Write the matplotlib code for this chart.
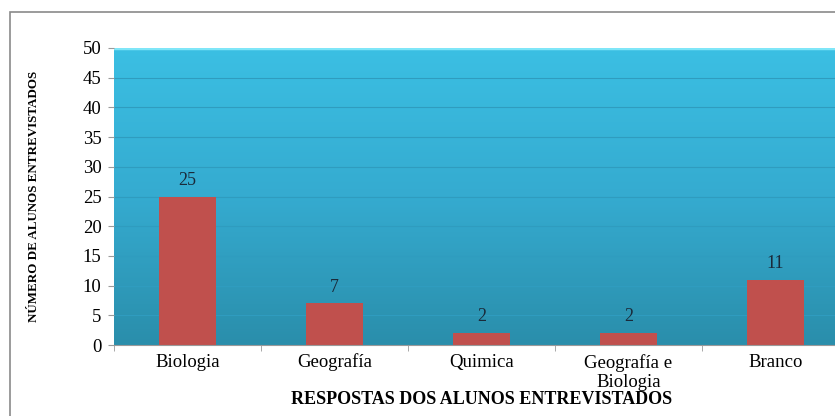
import numpy as np
import matplotlib.pyplot as plt
from matplotlib.colors import LinearSegmentedColormap
from matplotlib.patches import Rectangle
from matplotlib.transforms import ScaledTranslation

categorias = ['Biologia', 'Geografía', 'Quimica', 'Geografía e\nBiologia', 'Branco']
alunos = [25, 7, 2, 2, 11]
yticks = [0, 5, 10, 15, 20, 25, 30, 35, 40, 45, 50]

plt.rcParams['font.family'] = ['Liberation Serif', 'DejaVu Serif']

fig = plt.figure(figsize=(8.35, 4.16), dpi=100)
fig.patch.set_facecolor('white')

# moldura do grafico (cortada a direita e em baixo)
fig.patches.append(Rectangle((10 / 835, -0.1), 1.2, (416 - 12) / 416 + 0.1,
                             transform=fig.transFigure, fill=False,
                             edgecolor='#8a8a8a', linewidth=1.2))

ax = fig.add_axes([114 / 835, 71 / 416, 735 / 835, 297 / 416])
x = np.arange(len(categorias))
ax.set_xlim(-0.5, len(categorias) - 0.5)
ax.set_ylim(0, 50)

# fundo em gradiente azul: escuro em baixo, claro em cima
grad = np.linspace(0, 1, 256).reshape(-1, 1)
cmap = LinearSegmentedColormap.from_list('fundo', ['#2a8eab', '#35abd0', '#3bbfe3'])
ax.imshow(grad, aspect='auto', cmap=cmap, extent=(-0.5, len(categorias) - 0.5, 0, 50),
          zorder=0, origin='lower')
ax.axhline(50, color='#7fe6f8', linewidth=2.5, zorder=1)

for yv in yticks[1:-1]:
    ax.axhline(yv, color='#2f9cbf', linewidth=0.8, zorder=1)

ax.bar(x, alunos, width=0.39, color='#c0504d', zorder=2)
for xi, v in zip(x, alunos):
    ax.text(xi, v + 1.3, str(v), ha='center', va='bottom', fontsize=13,
            color='#1a2a3a', zorder=3)

for s in ['top', 'right']:
    ax.spines[s].set_visible(False)
ax.spines['left'].set_visible(False)
ax.spines['bottom'].set_color('#9a9a9a')

ax.set_yticks(yticks)
ax.set_yticklabels([str(t) for t in yticks], fontsize=13.5)
ax.tick_params(axis='y', length=4, color='#9a9a9a', pad=5)

ax.set_xticks(x)
ax.set_xticklabels(categorias, fontsize=13.5, linespacing=1.15)
ax.tick_params(axis='x', length=0, pad=16)
# rotulos alinhados pela linha de base; o de duas linhas pelo topo
for lbl in ax.get_xticklabels():
    if '\n' in lbl.get_text():
        lbl.set_verticalalignment('top')
        lbl.set_transform(lbl.get_transform() +
                          ScaledTranslation(0, 9.5 / 72, fig.dpi_scale_trans))
    else:
        lbl.set_verticalalignment('baseline')
ax.set_xticks(np.arange(len(categorias)) - 0.5, minor=True)
ax.tick_params(axis='x', which='minor', length=4, color='#9a9a9a')

ax.set_xlabel('RESPOSTAS DOS ALUNOS ENTREVISTADOS', fontsize=13, fontweight='bold',
              labelpad=0, va='center')
ax.xaxis.set_label_coords((482 - 114) / 735, -(400 - 345) / 297)
ax.set_ylabel('NÚMERO DE ALUNOS ENTREVISTADOS', fontsize=9.4, fontweight='bold')
ax.yaxis.set_label_coords(-(114 - 40) / 735, 0.5)

fig.savefig('out.png', dpi=100)
